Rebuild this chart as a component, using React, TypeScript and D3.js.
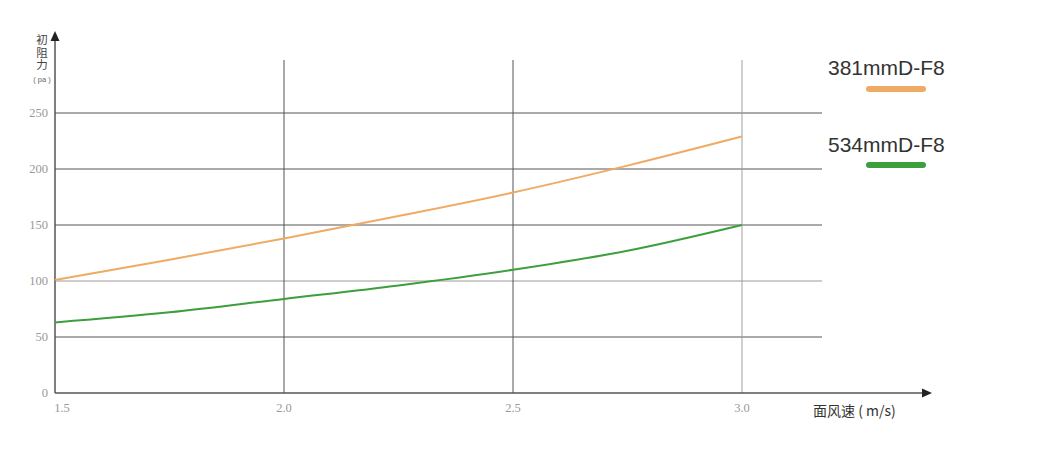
import React from "react";
import * as d3 from "d3";

const xTicks = [1.5, 2.0, 2.5, 3.0];
const yTicks = [0, 50, 100, 150, 200, 250];
const speeds = [1.5, 1.75, 2.0, 2.25, 2.5, 2.75, 3.0];
const s381 = [101, 119, 138, 158, 179, 203, 229];
const s534 = [63, 72, 84, 96, 110, 127, 150];
const seriesNames = ["381mmD-F8", "534mmD-F8"];
const seriesColors = ["#efaa64", "#3d9e3d"];
const yTitle = "初阻力";

export default function App() {
  const W = 1054, H = 462;
  const x = d3.scaleLinear().domain([1.5, 3.0]).range([55, 742]);
  const y = d3.scaleLinear().domain([0, 250]).range([393, 113]);
  const line = d3
    .line<number>()
    .x((_, i) => x(speeds[i]))
    .y((d) => y(d))
    .curve(d3.curveMonotoneX);
  const series = [s381, s534];
  return (
    <svg width={W} height={H} style={{ position: "absolute", left: 0, top: 0, background: "#fff" }}>
      {yTicks.slice(1).map((t) => (
        <line key={"h" + t} x1={55} x2={822} y1={y(t)} y2={y(t)} stroke={t === 100 ? "#9a9a9a" : "#555"} strokeWidth={1} />
      ))}
      {xTicks.slice(1).map((t) => (
        <line key={"v" + t} x1={x(t)} x2={x(t)} y1={60} y2={393} stroke={t === 3.0 ? "#a0a0a0" : "#555"} strokeWidth={1} />
      ))}
      <line x1={55} x2={924} y1={393} y2={393} stroke="#555" strokeWidth={1.5} />
      <path d="M932,393 L922,388.5 L922,397.5 Z" fill="#222" />
      <line x1={55} x2={55} y1={393} y2={40} stroke="#555" strokeWidth={1.5} />
      <path d="M55,31 L50.5,41 L59.5,41 Z" fill="#222" />
      {yTicks.map((t) => (
        <text key={"yl" + t} x={48} y={y(t) + 4} textAnchor="end" fontFamily="'Liberation Serif', serif" fontSize={12.5} fill="#999">
          {t}
        </text>
      ))}
      {xTicks.map((t) => (
        <text key={"xl" + t} x={t === 1.5 ? x(t) + 7 : x(t)} y={412} textAnchor="middle" fontFamily="'Liberation Serif', serif" fontSize={12.5} fill="#999">
          {t.toFixed(1)}
        </text>
      ))}
      {series.map((s, i) => (
        <path key={"s" + i} d={line(s) || ""} fill="none" stroke={seriesColors[i]} strokeWidth={2} />
      ))}
      <text
        x={42}
        y={34}
        style={{ writingMode: "vertical-rl", letterSpacing: "1px" }}
        fontFamily="'Noto Sans CJK SC', sans-serif"
        fontSize={11.5}
        fill="#444"
      >
        {yTitle}
      </text>
      <text x={42} y={82} textAnchor="middle" fontFamily="'Liberation Sans', sans-serif" fontSize={7.5} fill="#666">
        ( pa )
      </text>
      <text x={813} y={416} fontFamily="'Noto Sans CJK SC', sans-serif" fontSize={14} fill="#333">
        面风速 ( m/s)
      </text>
      {seriesNames.map((n, i) => (
        <g key={"lg" + i}>
          <text x={828} y={75 + i * 77} fontFamily="'Liberation Sans', Arial, sans-serif" fontSize={21} fill="#333">
            {n}
          </text>
          <line x1={869} x2={923} y1={89 + i * 76} y2={89 + i * 76} stroke={seriesColors[i]} strokeWidth={6} strokeLinecap="round" />
        </g>
      ))}
    </svg>
  );
}
